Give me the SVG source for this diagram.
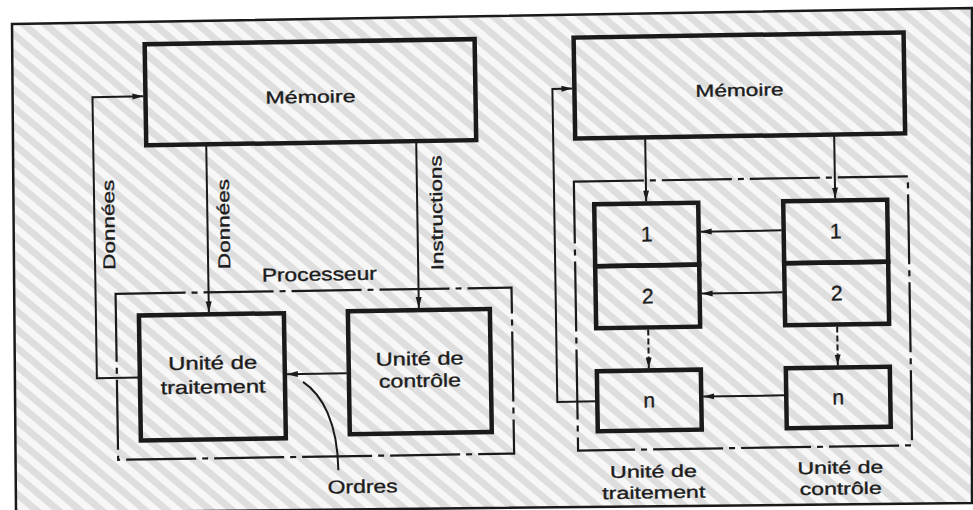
<svg xmlns="http://www.w3.org/2000/svg" width="973" height="510" viewBox="0 0 973 510">
  <defs>
    <pattern id="hatch" patternUnits="userSpaceOnUse" width="14" height="14" patternTransform="rotate(40)">
      <rect width="14" height="14" fill="#f7f7f7"/>
      <rect y="0" width="14" height="7" fill="#dedede"/>
    </pattern>
    <marker id="ah" markerUnits="userSpaceOnUse" markerWidth="12" markerHeight="8" refX="11" refY="4" orient="auto">
      <path d="M0,1 L11,4 L0,7 z" fill="#1a1a1a"/>
    </marker>
    <style>
      .box { fill: none; stroke: #1a1a1a; stroke-width: 4.5; }
      .grp { fill: none; stroke: #1a1a1a; stroke-width: 2.2; stroke-dasharray: 70 6 6 6; }
      .ln { fill: none; stroke: #1a1a1a; stroke-width: 2; }
      .dl { fill: none; stroke: #1a1a1a; stroke-width: 2; stroke-dasharray: 6 3; }
      .arr { marker-end: url(#ah); }
      text { font-family: "Liberation Sans", Arial, sans-serif; fill: #1c1c1c; stroke: #1c1c1c; stroke-width: 0.35; text-anchor: middle; }
      .t17 { font-size: 17px; }
      .t18 { font-size: 18.5px; }
      .num { font-size: 21px; }
    </style>
  </defs>

  <rect width="973" height="510" fill="#ffffff"/>
  <g id="frame">
    <polygon points="12,24 972,8 972,503 16,513" fill="url(#hatch)" stroke="#1a1a1a" stroke-width="2.5"/>
  </g>

  <g transform="rotate(-0.9 486 255)">
    <!-- Left diagram -->
    <g id="memoire-left">
      <rect class="box" x="148" y="39" width="330" height="101"/>
      <text class="t17" x="313" y="100" textLength="90" lengthAdjust="spacingAndGlyphs">Mémoire</text>
    </g>
    <g id="processeur">
      <rect class="grp" x="115" y="288" width="396" height="166"/>
      <text class="t18" x="319" y="278" textLength="115" lengthAdjust="spacingAndGlyphs">Processeur</text>
    </g>
    <g id="unite-traitement-left">
      <rect class="box" x="138" y="310" width="145" height="125"/>
      <text class="t18" x="211" y="365" textLength="89" lengthAdjust="spacingAndGlyphs">Unité de</text>
      <text class="t18" x="211" y="389" textLength="105" lengthAdjust="spacingAndGlyphs">traitement</text>
    </g>
    <g id="unite-controle-left">
      <rect class="box" x="347" y="309" width="142" height="123"/>
      <text class="t18" x="418" y="364" textLength="88" lengthAdjust="spacingAndGlyphs">Unité de</text>
      <text class="t18" x="418" y="386" textLength="82" lengthAdjust="spacingAndGlyphs">contrôle</text>
    </g>

    <!-- Right diagram -->
    <g id="memoire-right">
      <rect class="box" x="577" y="39" width="330" height="101"/>
      <text class="t17" x="742" y="100" textLength="88" lengthAdjust="spacingAndGlyphs">Mémoire</text>
    </g>
    <g id="processeur-right">
      <rect class="grp" x="575" y="183" width="334" height="269"/>
    </g>
    <g id="ut-1">
      <rect class="box" x="595" y="206" width="104" height="62"/>
      <text class="num" x="647" y="244">1</text>
    </g>
    <g id="ut-2">
      <rect class="box" x="595" y="268" width="104" height="62"/>
      <text class="num" x="647" y="306">2</text>
    </g>
    <g id="ut-n">
      <rect class="box" x="595" y="373" width="104" height="60"/>
      <text class="num" x="647" y="410">n</text>
    </g>
    <g id="uc-1">
      <rect class="box" x="784" y="206" width="104" height="62"/>
      <text class="num" x="836" y="244">1</text>
    </g>
    <g id="uc-2">
      <rect class="box" x="784" y="268" width="104" height="62"/>
      <text class="num" x="836" y="306">2</text>
    </g>
    <g id="uc-n">
      <rect class="box" x="784" y="373" width="104" height="60"/>
      <text class="num" x="836" y="410">n</text>
    </g>
    <g id="label-traitement-right">
      <text class="t17" x="650" y="480" textLength="87" lengthAdjust="spacingAndGlyphs">Unité de</text>
      <text class="t17" x="650" y="501" textLength="103" lengthAdjust="spacingAndGlyphs">traitement</text>
    </g>
    <g id="label-controle-right">
      <text class="t17" x="837" y="479" textLength="86" lengthAdjust="spacingAndGlyphs">Unité de</text>
      <text class="t17" x="837" y="500" textLength="82" lengthAdjust="spacingAndGlyphs">contrôle</text>
    </g>

    <g id="connectors">
      <!-- left -->
      <path class="ln arr" d="M138,372 H95 V91 H146"/>
      <path class="ln arr" d="M208,141 V308"/>
      <path class="ln arr" d="M418,141 V307"/>
      <path class="ln arr" d="M345,371 H285"/>
      <path class="ln" d="M301,379 C320,392 335,420 335,468"/>
      <text class="t17" transform="translate(115,219) rotate(-90)" x="0" y="0" textLength="90" lengthAdjust="spacingAndGlyphs">Données</text>
      <text class="t17" transform="translate(230,220) rotate(-90)" x="0" y="0" textLength="90" lengthAdjust="spacingAndGlyphs">Données</text>
      <text class="t17" transform="translate(443,212) rotate(-90)" x="0" y="0" textLength="115" lengthAdjust="spacingAndGlyphs">Instructions</text>
      <text class="t18" x="359" y="491" textLength="70" lengthAdjust="spacingAndGlyphs">Ordres</text>
      <!-- right -->
      <path class="ln arr" d="M595,403 H555 V90 H575"/>
      <path class="ln arr" d="M647,141 V204"/>
      <path class="ln arr" d="M836,141 V204"/>
      <path class="ln arr" d="M782,235 H701"/>
      <path class="ln arr" d="M782,297 H701"/>
      <path class="ln arr" d="M782,400 H701"/>
      <path class="dl arr" d="M647,332 V371"/>
      <path class="dl arr" d="M836,332 V371"/>
    </g>
  </g>
</svg>
